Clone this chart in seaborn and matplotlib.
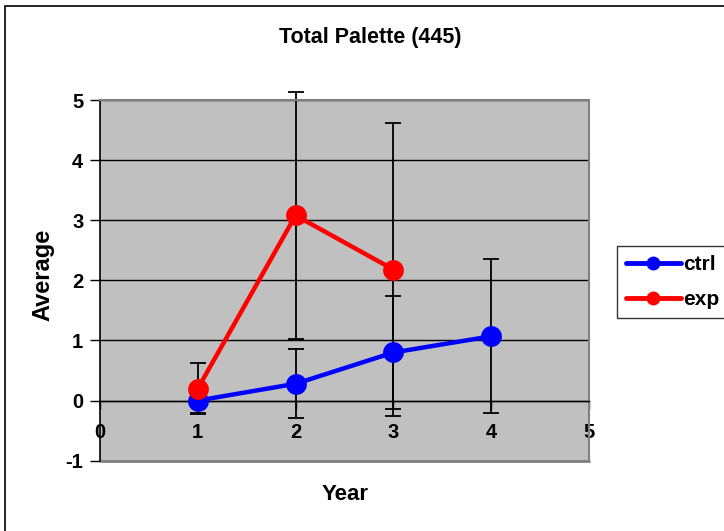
import numpy as np
import pandas as pd
import matplotlib
matplotlib.use('Agg')
import matplotlib.pyplot as plt
import matplotlib.patches as patches
import seaborn as sns

# 데이터
years_ctrl = [1, 2, 3, 4]
avg_ctrl = [0.0, 0.28, 0.80, 1.07]
err_ctrl = [0.20, 0.57, 0.94, 1.28]

years_exp = [1, 2, 3]
avg_exp = [0.20, 3.08, 2.18]
err_exp = [0.42, 2.05, 2.43]

x_ticks = [0, 1, 2, 3, 4, 5]
y_ticks = [-1, 0, 1, 2, 3, 4, 5]

df = pd.concat([
    pd.DataFrame({'Year': years_ctrl, 'Average': avg_ctrl, 'group': 'ctrl'}),
    pd.DataFrame({'Year': years_exp, 'Average': avg_exp, 'group': 'exp'}),
])

sns.set_style('white')
plt.rcParams['font.family'] = ['Liberation Sans', 'DejaVu Sans']
plt.rcParams['font.weight'] = 'bold'
plt.rcParams['axes.unicode_minus'] = False
plt.rcParams['text.color'] = 'black'
plt.rcParams['xtick.color'] = 'black'
plt.rcParams['ytick.color'] = 'black'
plt.rcParams['axes.labelcolor'] = 'black'

W, H = 724, 531
fig = plt.figure(figsize=(W / 100, H / 100), dpi=100)
ax = fig.add_axes([100 / W, 1 - 460.7 / H, 489 / W, 360.7 / H])
ax.set_facecolor('#C0C0C0')

# 오차 막대 (선 뒤에)
for xs, ys, es in [(years_ctrl, avg_ctrl, err_ctrl), (years_exp, avg_exp, err_exp)]:
    _, caps, bars = ax.errorbar(xs, ys, yerr=es, fmt='none', ecolor='black',
                                elinewidth=1.3, capsize=5.5, capthick=1.3, zorder=2)
    for c in caps:
        c.set_clip_on(False)
    for b in bars:
        b.set_clip_on(False)

sns.lineplot(data=df, x='Year', y='Average', hue='group', marker='o',
             markersize=15, markeredgewidth=0, linewidth=3.2,
             palette={'ctrl': '#0000FF', 'exp': '#FF0000'}, ax=ax, zorder=3)

ax.set_xlim(0, 5)
ax.set_ylim(-1, 5)
ax.set_xticks(x_ticks)
ax.set_yticks(y_ticks)
ax.grid(axis='y', color='black', linewidth=1)
ax.grid(axis='x', visible=False)

for s in ['top', 'right']:
    ax.spines[s].set_color('#808080')
    ax.spines[s].set_linewidth(1.5)
ax.spines['left'].set_color('black')
ax.spines['left'].set_linewidth(1.2)
ax.spines['bottom'].set_position(('data', 0))
ax.spines['bottom'].set_color('black')
ax.spines['bottom'].set_linewidth(1)
ax.axhline(-1, color='#808080', linewidth=2, clip_on=False, zorder=1)

ax.tick_params(axis='y', direction='out', length=7, width=1, color='black',
               labelsize=14.5, pad=5, left=True)
ax.tick_params(axis='x', direction='out', length=6, width=1, color='black',
               labelsize=14.5, pad=10, bottom=True)
for lbl in ax.get_xticklabels() + ax.get_yticklabels():
    lbl.set_fontweight('bold')

ax.set_xlabel('Year', fontsize=16, fontweight='bold')
ax.set_ylabel('Average', fontsize=17, fontweight='bold')
ax.xaxis.set_label_coords(0.501, -0.095)
ax.xaxis.label.set_va('center')
ax.yaxis.set_label_coords(-0.1166, 0.515)
ax.yaxis.label.set_va('center')

fig.text(370 / W, 1 - 37 / H, 'Total Palette (445)', ha='center', va='center',
         fontsize=15.5, fontweight='bold')

leg = ax.legend(loc='upper left', bbox_to_anchor=(617 / W, 1 - 246 / H),
                bbox_transform=fig.transFigure, frameon=True, fancybox=False,
                edgecolor='black', fontsize=15, handlelength=2.6,
                borderpad=0.45, labelspacing=0.75, handletextpad=0.1,
                borderaxespad=0, title=None)
leg.get_frame().set_linewidth(1)
for t in leg.get_texts():
    t.set_fontweight('bold')
for h in leg.legend_handles:
    h.set_markersize(10)
    h.set_linewidth(3.5)

# 바깥 테두리
fig.patches.append(patches.Rectangle((5 / W, -0.1), 1.2, 1 - 6 / H + 0.1,
                                     transform=fig.transFigure, fill=False,
                                     edgecolor='black', linewidth=1.2))

fig.savefig('out.png', dpi=100)
